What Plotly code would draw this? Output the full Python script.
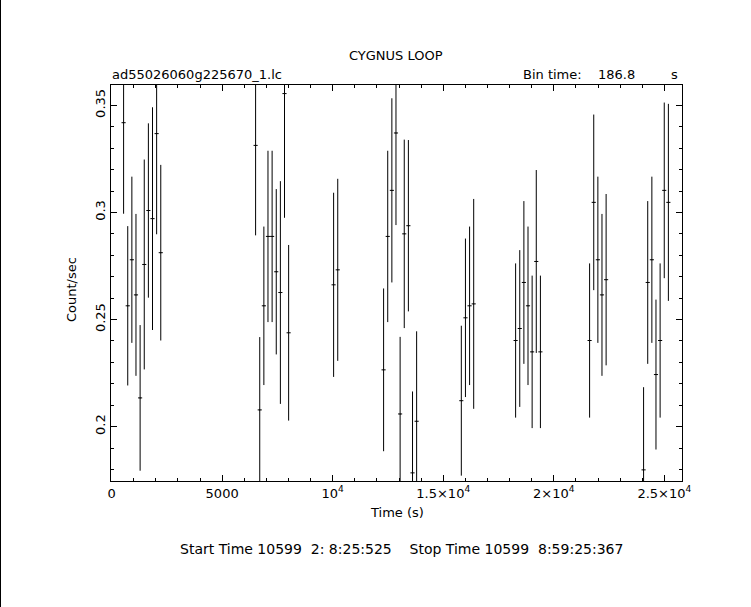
import plotly.graph_objects as go

# Light curve: time (s), rate (count/sec), 1-sigma error
time_s = [543, 730, 917, 1103, 1290, 1477, 1664, 1850, 2037, 2224,
          6513, 6700, 6887, 7073, 7260, 7447, 7634, 7820, 8007,
          10041, 10228, 12302, 12489, 12676, 12862, 13049, 13236, 13423, 13610, 13796,
          15817, 16004, 16191, 16377,
          18273, 18460, 18647, 18833, 19020, 19207, 19394,
          21619, 21806, 21993, 22179, 22366,
          24061, 24248, 24435, 24621, 24808, 24995, 25182]
rate = [0.3419, 0.2564, 0.2779, 0.2615, 0.2134, 0.2757, 0.3009, 0.2971, 0.3368, 0.2812,
        0.3313, 0.2078, 0.2564, 0.2888, 0.2888, 0.2723, 0.2626, 0.3555, 0.2438,
        0.2662, 0.2732, 0.2265, 0.2888, 0.3103, 0.3371, 0.2059, 0.2900, 0.2938, 0.1784, 0.2025,
        0.2121, 0.2508, 0.2564, 0.2573,
        0.2402, 0.2458, 0.2673, 0.2564, 0.2349, 0.2771, 0.2349,
        0.2402, 0.3047, 0.2779, 0.2615, 0.2686,
        0.1798, 0.2673, 0.2779, 0.2243, 0.2402, 0.3103, 0.3047]
rate_err = [0.0425, 0.0372, 0.0388, 0.0378, 0.0340, 0.0490, 0.0407, 0.0520, 0.0470, 0.0410,
            0.0420, 0.0340, 0.0370, 0.0400, 0.0400, 0.0386, 0.0520, 0.0580, 0.0410,
            0.0430, 0.0425, 0.0380, 0.0400, 0.0430, 0.0430, 0.0360, 0.0440, 0.0400, 0.0380, 0.0420,
            0.0350, 0.0370, 0.0370, 0.0490,
            0.0360, 0.0366, 0.0380, 0.0370, 0.0356, 0.0427, 0.0356,
            0.0360, 0.0410, 0.0388, 0.0378, 0.0400,
            0.0386, 0.0380, 0.0388, 0.0350, 0.0360, 0.0410, 0.0460]
bin_time = 186.8

x_tickvals = [0, 5000, 10000, 15000, 20000, 25000]
x_ticktext = ["0", "5000", "10<sup>4</sup>", "1.5×10<sup>4</sup>", "2×10<sup>4</sup>", "2.5×10<sup>4</sup>"]
y_tickvals = [0.2, 0.25, 0.3, 0.35]
y_ticktext = ["0.2", "0.25", "0.3", "0.35"]

FONT = "DejaVu Sans, Liberation Sans, sans-serif"
FS = 13
NB = "\u00a0"

fig = go.Figure()
fig.add_trace(go.Scatter(
    x=time_s, y=rate, mode="markers",
    marker=dict(size=1, color="black"),
    error_y=dict(type="data", array=rate_err, visible=True, color="black", thickness=1, width=0),
    error_x=dict(type="constant", value=bin_time / 2, visible=True, color="black", thickness=1, width=0),
    showlegend=False, hoverinfo="skip",
))

L, R, T, B = 111, 69, 85, 126
W, H = 751, 607
pw, ph = W - L - R, H - T - B

def px_x(p):
    return (p - L) / pw

def px_y(p):
    return (H - B - p) / ph

fig.update_layout(
    width=W, height=H,
    margin=dict(l=L, r=R, t=T, b=B, pad=0),
    paper_bgcolor="white", plot_bgcolor="white",
    font=dict(family=FONT, size=FS, color="black"),
    xaxis=dict(
        range=[-27, 25798], showgrid=False, zeroline=False,
        showline=True, linecolor="black", linewidth=1, mirror="allticks",
        ticks="inside", ticklen=6, tickcolor="black", tickwidth=1,
        tickmode="array", tickvals=x_tickvals, ticktext=x_ticktext,
        tickfont=dict(family=FONT, size=FS, color="black"),
        minor=dict(tickmode="linear", tick0=0, dtick=1000, ticks="inside", ticklen=3,
                   tickcolor="black", tickwidth=1, showgrid=False),
    ),
    yaxis=dict(
        range=[0.1746, 0.3595], showgrid=False, zeroline=False,
        showline=True, linecolor="black", linewidth=1, mirror="allticks",
        ticks="inside", ticklen=6, tickcolor="black", tickwidth=1,
        tickmode="array", tickvals=y_tickvals, ticktext=y_ticktext, tickangle=-90,
        tickfont=dict(family=FONT, size=FS, color="black"),
        minor=dict(tickmode="linear", tick0=0, dtick=0.01, ticks="inside", ticklen=3,
                   tickcolor="black", tickwidth=1, showgrid=False),
    ),
)

footer = "Start Time 10599  2: 8:25:525    Stop Time 10599  8:59:25:367".replace("  ", NB + NB)

ann = [
    dict(text="CYGNUS LOOP", x=px_x(396), y=px_y(55), xanchor="center", yanchor="middle", size=FS),
    dict(text="ad55026060g225670_1.lc", x=px_x(110), y=px_y(74), xanchor="left", yanchor="middle", size=FS),
    dict(text="Bin time:", x=px_x(521), y=px_y(74), xanchor="left", yanchor="middle", size=FS),
    dict(text="186.8", x=px_x(637), y=px_y(74), xanchor="right", yanchor="middle", size=FS),
    dict(text="s", x=px_x(680), y=px_y(74), xanchor="right", yanchor="middle", size=FS),
    dict(text="Time (s)", x=px_x(397), y=px_y(512), xanchor="center", yanchor="middle", size=FS),
    dict(text="Count/sec", x=px_x(71), y=px_y(290), xanchor="center", yanchor="middle", textangle=-90, size=FS),
    dict(text=footer, x=px_x(401), y=px_y(549), xanchor="center", yanchor="middle", size=14),
]
for a in ann:
    sz = a.pop("size")
    fig.add_annotation(xref="paper", yref="paper", showarrow=False,
                       font=dict(family=FONT, size=sz, color="black"), **a)

# left border line of the page
fig.add_shape(type="line", xref="paper", yref="paper",
              x0=px_x(0.5), x1=px_x(0.5), y0=px_y(607), y1=px_y(0),
              line=dict(color="black", width=1))

fig.write_html("out.html", config={"displayModeBar": False},
               post_script="document.body.style.margin='0';document.body.style.overflow='hidden';")
